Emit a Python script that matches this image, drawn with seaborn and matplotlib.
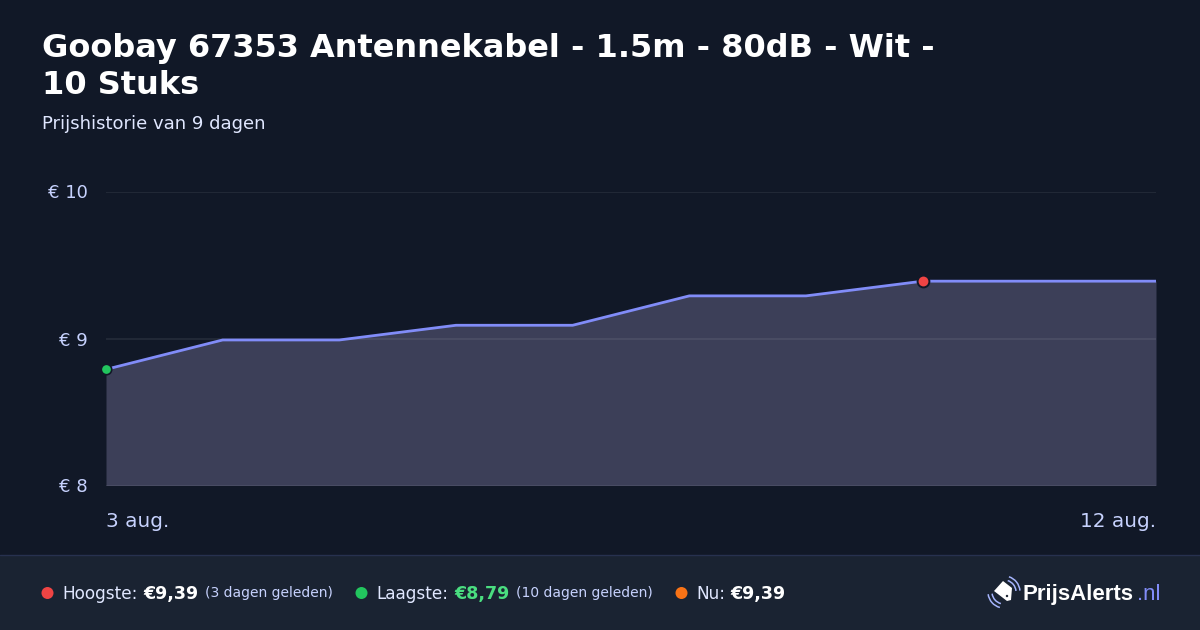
import matplotlib
matplotlib.use("Agg")
import matplotlib.pyplot as plt
import pandas as pd
import seaborn as sns
from matplotlib.patches import Rectangle, Polygon, Arc, Circle

title_lines = ["Goobay 67353 Antennekabel - 1.5m - 80dB - Wit -", "10 Stuks"]
subtitle = "Prijshistorie van 9 dagen"
days = [3, 4, 5, 6, 7, 8, 9, 10, 11, 12]
prices = [8.79, 8.99, 8.99, 9.09, 9.09, 9.29, 9.29, 9.39, 9.39, 9.39]
y_ticks = [8, 9, 10]
y_labels = ["€ 8", "€ 9", "€ 10"]
x_ticks = [3, 12]
x_labels = ["3 aug.", "12 aug."]
low_day, high_day = 3, 10

BG = "#111827"; FOOT = "#1a2332"; LINE = "#818cf8"; TICK = "#c7d2fe"
RED = "#ef4444"; GREEN = "#22c55e"; ORANGE = "#f97316"; LIGHTGREEN = "#4ade80"
FILL = "#3c3f58"

sns.set_theme(style="dark")
plt.rcParams["font.family"] = ["DejaVu Sans"]
W, H = 1200, 630
fig = plt.figure(figsize=(12, 6.3), dpi=100, facecolor=BG)

ax = fig.add_axes([106 / W, 1 - 485.5 / H, 1050 / W, 294 / H], facecolor=BG)
df = pd.DataFrame({"day": days, "price": prices})
ax.fill_between(days, prices, 8, color=FILL, linewidth=0, zorder=1)
sns.lineplot(data=df, x="day", y="price", ax=ax, color=LINE, linewidth=2.0, zorder=3, errorbar=None)
ax.plot([low_day], [prices[days.index(low_day)]], "o", ms=7.5, mfc=GREEN, mec=BG, mew=1.2, zorder=4, clip_on=False)
ax.plot([high_day], [prices[days.index(high_day)]], "o", ms=8.5, mfc=RED, mec=BG, mew=1.4, zorder=4, clip_on=False)
ax.set_xlim(3, 12); ax.set_ylim(8, 10)
ax.set_xlabel(""); ax.set_ylabel("")
for s in ax.spines.values():
    s.set_visible(False)
ax.set_yticks(y_ticks, y_labels)
ax.set_xticks(x_ticks, x_labels)
ax.tick_params(axis="both", length=0, labelcolor=TICK)
ax.tick_params(axis="y", labelsize=13, pad=13)
ax.tick_params(axis="x", labelsize=14.4, pad=19)
ax.get_xticklabels()[0].set_ha("left")
ax.get_xticklabels()[1].set_ha("right")
ax.grid(axis="y", color="#ffffff", alpha=0.07, linewidth=1.4, zorder=0)
ax.grid(axis="x", visible=False)
ax.set_axisbelow(False)

ov = fig.add_axes([0, 0, 1, 1], facecolor="none", zorder=5)
ov.set_xlim(0, W); ov.set_ylim(H, 0); ov.axis("off")
ov.add_patch(Rectangle((0, 555), W, 75, color=FOOT, lw=0))
ov.plot([0, W], [554.5, 554.5], color="#27314f", lw=1)

ov.text(42, 49, title_lines[0], color="white", fontsize=23, fontweight="bold", va="center")
ov.text(42, 86, title_lines[1], color="white", fontsize=23, fontweight="bold", va="center")
ov.text(42, 124, subtitle, color="#e0e7ff", fontsize=13, va="center")

FY = 592
def dot(x, c):
    ov.add_patch(Circle((x, FY + 1), 6, color=c, lw=0))
def tx(x, s, c="#e0e7ff", fs=12.2, w="normal"):
    ov.text(x, FY, s, color=c, fontsize=fs, fontweight=w, va="center_baseline")
dot(47.5, RED)
tx(62, "Hoogste:")
tx(143, "€9,39", "white", 12.6, "bold")
tx(205, "(3 dagen geleden)", TICK, 10)
dot(361.5, GREEN)
tx(376, "Laagste:")
tx(454, "€8,79", LIGHTGREEN, 12.6, "bold")
tx(516, "(10 dagen geleden)", TICK, 10)
dot(681.5, ORANGE)
tx(696, "Nu:")
tx(730, "€9,39", "white", 12.6, "bold")

# logo
ov.text(1022, FY, "PrijsAlerts", color="white", fontsize=16, fontweight="bold", family="Liberation Sans", va="center_baseline")
ov.text(1137, FY, ".nl", color="#818cf8", fontsize=16, family="Liberation Sans", va="center_baseline")
ov.add_patch(Polygon([[1003, 581], [1012, 588], [1011, 600], [1007, 601], [994, 591]], closed=True, color="white", lw=0))
ov.add_patch(Circle((1007, 596), 1.2, color=FOOT, lw=0))
for r in (12, 16):
    ov.add_patch(Arc((1004, 592), 2 * r, 2 * r, angle=0, theta1=-72, theta2=-5, color="#a5b4fc", lw=1.1))
    ov.add_patch(Arc((1004, 592), 2 * r, 2 * r, angle=0, theta1=105, theta2=172, color="#a5b4fc", lw=1.1))

fig.savefig("out.png", dpi=100, facecolor=BG)
